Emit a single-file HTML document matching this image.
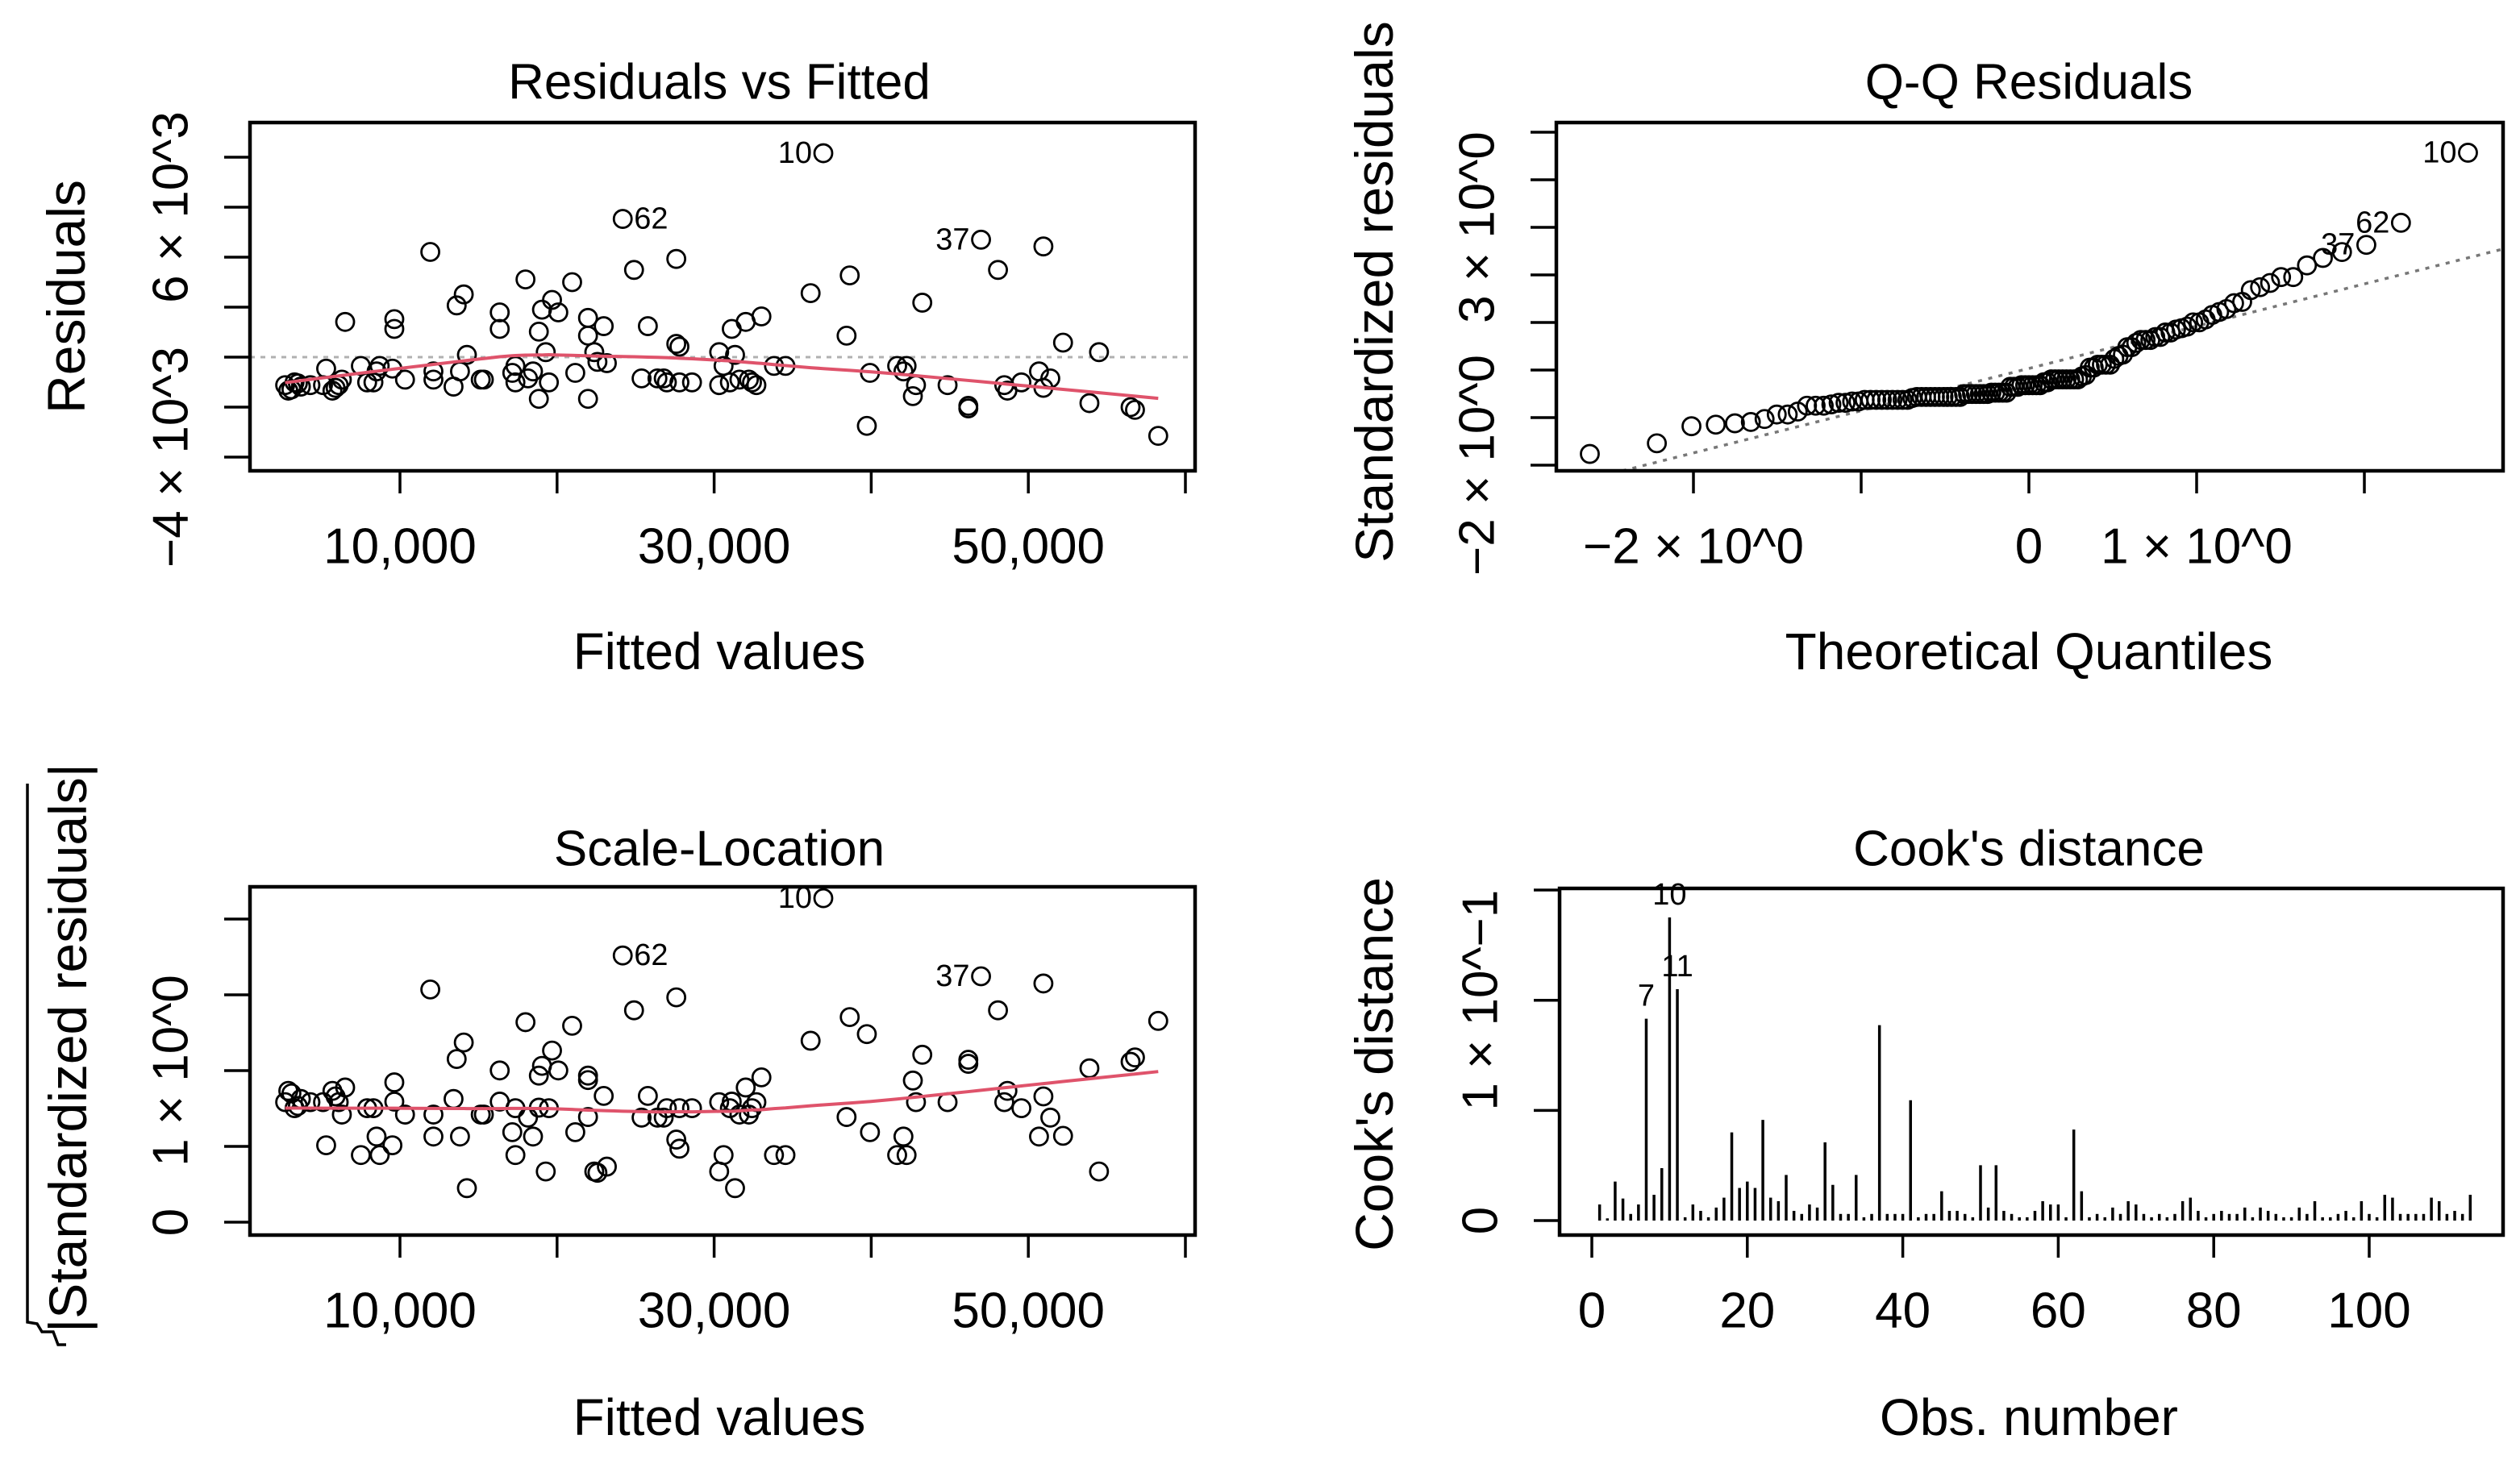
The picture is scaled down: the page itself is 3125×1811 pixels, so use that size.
<!DOCTYPE html>
<html><head><meta charset="utf-8"><style>
html,body{margin:0;padding:0;background:#fff;}
svg{display:block;}
text{font-family:"Liberation Sans",Arial,sans-serif;fill:#000;}
</style></head><body>
<svg id="chart" xmlns="http://www.w3.org/2000/svg" width="3125" height="1811" viewBox="0 0 3125 1811">
<defs>
<clipPath id="c1"><rect x="310" y="152" width="1172" height="432"/></clipPath>
<clipPath id="c2"><rect x="1930" y="152" width="1174" height="432"/></clipPath>
<clipPath id="c3"><rect x="310" y="1100" width="1172" height="432"/></clipPath>
</defs>
<g id="g"></g>
</svg>
<script>
// ---------- data (fitted in thousands, residuals in thousands) ----------
const obsLabels = ["10", "37", "62"];
const fittedVals = [36.95,46.99,24.18, 2.69,3.09,3.29,4.30,5.30,5.10,5.70,6.10,6.51,7.51,7.91,8.71,9.52,9.64,9.64,10.32,11.93,12.13,12.13,13.41,13.61,14.06,14.26,13.82,15.14,15.34,16.35,16.35,17.35,17.35,17.99,18.47,18.84,18.84,19.04,19.28,19.68,19.48,20.08,20.96,21.16,21.97,21.97,21.97,22.37,22.97,23.17,22.57,24.90,25.38,25.78,26.39,26.79,27.59,27.59,27.79,27.79,28.59,30.32,30.32,30.60,31.12,31.33,31.61,32.01,32.21,32.69,33.01,33.81,34.54,36.14,38.43,38.63,39.72,39.92,41.65,42.25,42.65,42.85,43.25,44.86,46.18,46.18,48.07,48.47,49.56,50.68,50.96,50.96,51.40,52.21,53.89,54.50,56.51,56.79,58.27,2.89,3.69,5.90,8.31,8.51,17.15,18.15,26.99,31.00,32.41,42.05,48.67,3.50,6.30];
const residVals = [8.16,4.70,5.53, -1.12,-1.29,-1.01,-1.12,-0.46,-1.12,-1.34,-1.12,1.41,-0.35,-1.01,-0.35,-0.46,1.52,1.13,-0.90,4.21,-0.90,-0.57,-1.18,2.07,2.51,0.09,-0.57,-0.90,-0.90,1.79,1.13,-0.35,-1.01,3.11,-0.57,1.02,-1.67,1.90,0.20,2.29,-1.01,1.79,3.00,-0.63,1.57,0.86,-1.67,0.20,1.24,-0.24,-0.19,3.49,-0.85,1.24,-0.85,-0.85,3.93,0.53,0.42,-1.01,-1.01,0.20,-1.12,-0.35,1.13,0.09,-0.90,1.41,-0.90,-1.12,1.63,-0.35,-0.35,2.56,0.86,3.27,-2.75,-0.63,-0.35,-0.35,-1.56,-1.12,2.18,-1.12,-1.95,-2.05,3.49,-1.12,-1.01,-0.57,-1.23,4.43,-0.85,0.58,-1.84,0.20,-2.00,-2.11,-3.15,-1.34,-1.18,-1.23,-1.01,-0.57,-0.63,-0.85,-1.01,-1.01,-1.01,-0.57,-1.34,-1.05,-0.90];
const sigmaHat = 1.786;
const cooksVals = [0.0073,0.001,0.0177,0.010,0.003,0.0073,0.0916,0.0117,0.0238,0.1376,0.105,0.0015,0.0073,0.0044,0.0015,0.0059,0.0104,0.040,0.0148,0.0177,0.0148,0.0457,0.0104,0.0088,0.0207,0.0044,0.003,0.0073,0.0059,0.0355,0.0162,0.003,0.003,0.0207,0.0015,0.003,0.0887,0.003,0.003,0.003,0.0546,0.0015,0.003,0.003,0.0133,0.0044,0.0044,0.003,0.0015,0.0251,0.0059,0.0251,0.0044,0.003,0.0015,0.0015,0.0044,0.0088,0.0073,0.0073,0.0015,0.0413,0.0133,0.0015,0.003,0.0015,0.0059,0.003,0.0088,0.0073,0.003,0.0015,0.003,0.0015,0.003,0.0088,0.0104,0.0044,0.0015,0.003,0.0044,0.003,0.003,0.0059,0.0015,0.0059,0.0044,0.003,0.0015,0.0015,0.0059,0.003,0.0088,0.0015,0.0015,0.003,0.0044,0.0015,0.0088,0.003,0.0015,0.0117,0.0104,0.003,0.003,0.003,0.003,0.0104,0.0088,0.003,0.0044,0.003,0.0117];
const cooksLabelObs = [7, 10, 11];
const fittedTicks = [10,20,30,40,50,60];
const fittedTickLabels = {10:"10,000",30:"30,000",50:"50,000"};
const residTicks = [8,6,4,2,0,-2,-4];
const residTickLabels = {6:"6 × 10^3","-4":"−4 × 10^3"};
const qqXTicks = [-2,-1,0,1,2];
const qqXTickLabels = {"-2":"−2 × 10^0","0":"0","1":"1 × 10^0"};
const qqYTicks = [5,4,3,2,1,0,-1,-2];
const qqYTickLabels = {3:"3 × 10^0","-2":"−2 × 10^0"};
const slTicks = [0,0.5,1,1.5,2];
const slTickLabels = {0:"0",1:"1 × 10^0"};
const obsTicks = [0,20,40,60,80,100];
const cookTicks = [0,0.05,0.1,0.15];
const cookTickLabels = {0:"0","0.1":"1 × 10^−1"};

// ---------- axis functions ----------
const xFit = f => 496 + (f-10)*19.48;
const yRes = r => 443 - r*31;
const xQ = q => 2516 + q*208;
const yQ = s => 459 - s*59;
const ySL = v => 1516 - v*188;
const xObs = i => 1974 + i*9.64;
const yCook = v => 1514 - v*2733;

const NS="http://www.w3.org/2000/svg";
const G=document.getElementById('g');
function mk(tag, attrs, parent){const e=document.createElementNS(NS,tag);for(const k in attrs)e.setAttribute(k,attrs[k]);(parent||G).appendChild(e);return e;}
function txt(s,x,y,size,anchor,rot){const e=mk('text',{x:x,y:y,'font-size':size,'text-anchor':anchor||'middle','dominant-baseline':'central'});if(rot)e.setAttribute('transform','rotate(-90 '+x+' '+y+')');e.textContent=s;return e;}

function lowess(x,y,f,iter){
  const n=x.length, idx=[...Array(n).keys()].sort((a,b)=>x[a]-x[b]);
  const xs=idx.map(i=>x[i]), ys=idx.map(i=>y[i]);
  const ns=Math.max(2,Math.min(n,Math.round(f*n)));
  let rw=new Array(n).fill(1), fit=new Array(n).fill(0);
  for(let it=0;it<=iter;it++){
    for(let i=0;i<n;i++){
      const d=xs.map(v=>Math.abs(v-xs[i])); const h=[...d].sort((a,b)=>a-b)[ns-1]||1e-9;
      let sw=0,sx=0,sy=0,sxx=0,sxy=0;
      for(let j=0;j<n;j++){let u=d[j]/h; if(u>=1)continue; let w=Math.pow(1-u*u*u,3)*rw[j]; sw+=w;sx+=w*xs[j];sy+=w*ys[j];sxx+=w*xs[j]*xs[j];sxy+=w*xs[j]*ys[j];}
      const mx=sx/sw,my=sy/sw,vx=sxx/sw-mx*mx;
      fit[i]= vx>1e-9 ? my+(sxy/sw-mx*my)/vx*(xs[i]-mx) : my;
    }
    const res=ys.map((v,i)=>v-fit[i]); const m=[...res.map(Math.abs)].sort((a,b)=>a-b)[Math.floor(n/2)]*6;
    rw=res.map(r=>{const u=r/m;return Math.abs(u)<1?Math.pow(1-u*u,2):0;});
  }
  return xs.map((v,i)=>[v,fit[i]]);
}
function qnorm(p){
  const a=[-39.6968302866538,220.946098424521,-275.928510446969,138.357751867269,-30.6647980661472,2.50662827745924];
  const b=[-54.4760987982241,161.585836858041,-155.698979859887,66.8013118877197,-13.2806815528857];
  const c=[-0.00778489400243029,-0.322396458041136,-2.40075827716184,-2.54973253934373,4.37466414146497,2.93816398269878];
  const d=[0.00778469570904146,0.32246712907004,2.445134137143,3.75440866190742];
  let q,r;
  if(p<0.02425){q=Math.sqrt(-2*Math.log(p));return (((((c[0]*q+c[1])*q+c[2])*q+c[3])*q+c[4])*q+c[5])/((((d[0]*q+d[1])*q+d[2])*q+d[3])*q+1);}
  if(p>1-0.02425){q=Math.sqrt(-2*Math.log(1-p));return -(((((c[0]*q+c[1])*q+c[2])*q+c[3])*q+c[4])*q+c[5])/((((d[0]*q+d[1])*q+d[2])*q+d[3])*q+1);}
  q=p-0.5;r=q*q;return (((((a[0]*r+a[1])*r+a[2])*r+a[3])*r+a[4])*r+a[5])*q/(((((b[0]*r+b[1])*r+b[2])*r+b[3])*r+b[4])*r+1);
}
function quant(arr,p){const s=[...arr].sort((a,b)=>a-b);const h=(s.length-1)*p,lo=Math.floor(h);return s[lo]+(h-lo)*(s[Math.min(lo+1,s.length-1)]-s[lo]);}

function frame(x0,y0,x1,y1,name){const r=mk('rect',{x:x0,y:y0,width:x1-x0,height:y1-y0,fill:'none',stroke:'#000','stroke-width':4.5});}
function xAxis(ticks,labels,fx,yb,name){
  const g=mk('g',{});  
  ticks.forEach(t=>{mk('line',{x1:fx(t),x2:fx(t),y1:yb,y2:yb+28,stroke:'#000','stroke-width':3.5},g); if(labels[t]!==undefined){const e=txt(labels[t],fx(t),yb+94,62); g.appendChild(e);} });
}
function yAxis(ticks,labels,fy,xl,name){
  const g=mk('g',{});  
  ticks.forEach(t=>{mk('line',{x1:xl-32,x2:xl,y1:fy(t),y2:fy(t),stroke:'#000','stroke-width':3.5},g); if(labels[t]!==undefined){const e=txt(labels[t],xl-98,fy(t),62,'middle',true); g.appendChild(e);} });
}
function title(s,x,y,name){const e=txt(s,x,y,62);}
function ytitle(s,x,y,name){const e=txt(s,x,y,66,'middle',true);}
function xtitle(s,x,y,name){const e=txt(s,x,y,64);}
function pt(x,y,clip,name){const c=mk('circle',{cx:x,cy:y,r:11,fill:'none',stroke:'#000','stroke-width':2.8,'clip-path':clip});}

// ---------- Panel 1 ----------
title("Residuals vs Fitted",892,102,'residuals-vs-fitted-title');
{const l=mk('line',{x1:310,x2:1482,y1:yRes(0),y2:yRes(0),stroke:'#b0b0b0','stroke-width':3,'stroke-dasharray':'6 7'});}
fittedVals.forEach((f,i)=>pt(xFit(f),yRes(residVals[i]),'url(#c1)','residual-point'));
{const sm=lowess(fittedVals,residVals,2/3,3);const p=mk('polyline',{points:sm.map(d=>xFit(d[0])+','+yRes(d[1])).join(' '),fill:'none',stroke:'#DF536B','stroke-width':4});}
obsLabels.forEach((s,i)=>{const x=xFit(fittedVals[i]),y=yRes(residVals[i]);const right=fittedVals[i]<30;const e=txt(s,right?x+14:x-14,y,38,right?'start':'end');});
frame(310,152,1482,584,'residuals-plot-frame');
xAxis(fittedTicks,fittedTickLabels,xFit,584,'residuals-x-axis');
yAxis(residTicks,residTickLabels,yRes,310,'residuals-y-axis');
xtitle("Fitted values",892,808,'residuals-x-title');
ytitle("Residuals",82,368,'residuals-y-title');

// ---------- Panel 2 ----------
title("Q-Q Residuals",2516,102,'qq-title');
{
  const std=residVals.map(r=>r/sigmaHat); const n=std.length;
  const order=[...Array(n).keys()].sort((a,b)=>std[a]-std[b]);
  const theo=order.map((_,k)=>qnorm((k+1-0.5)/n));
  const q1=quant(std,0.25),q3=quant(std,0.75),z1=qnorm(0.25),z3=qnorm(0.75);
  const sl=(q3-q1)/(z3-z1), ic=q1-sl*z1;
  const l=mk('line',{x1:xQ(-4),y1:yQ(ic-4*sl),x2:xQ(4),y2:yQ(ic+4*sl),stroke:'#777','stroke-width':3.5,'stroke-dasharray':'5 8','clip-path':'url(#c2)'});
  
  order.forEach((i,k)=>{pt(xQ(theo[k]),yQ(std[i]),'url(#c2)','qq-point'); if(i<obsLabels.length){const e=txt(obsLabels[i],xQ(theo[k])-14,yQ(std[i]),38,'end');}});
}
frame(1930,152,3104,584,'qq-plot-frame');
xAxis(qqXTicks,qqXTickLabels,xQ,584,'qq-x-axis');
yAxis(qqYTicks,qqYTickLabels,yQ,1930,'qq-y-axis');
xtitle("Theoretical Quantiles",2516,808,'qq-x-title');
ytitle("Standardized residuals",1704,362,'qq-y-title');

// ---------- Panel 3 ----------
title("Scale-Location",892,1053,'scale-location-title');
{
  const sv=residVals.map(r=>Math.sqrt(Math.abs(r)/sigmaHat));
  fittedVals.forEach((f,i)=>pt(xFit(f),ySL(sv[i]),'url(#c3)','scale-location-point'));
  const sm=lowess(fittedVals,sv,2/3,3);const p=mk('polyline',{points:sm.map(d=>xFit(d[0])+','+ySL(d[1])).join(' '),fill:'none',stroke:'#DF536B','stroke-width':4});
  obsLabels.forEach((s,i)=>{const x=xFit(fittedVals[i]),y=ySL(sv[i]);const right=fittedVals[i]<30;const e=txt(s,right?x+14:x-14,y,38,right?'start':'end');});
}
frame(310,1100,1482,1532,'scale-location-frame');
xAxis(fittedTicks,fittedTickLabels,xFit,1532,'scale-location-x-axis');
yAxis(slTicks,slTickLabels,ySL,310,'scale-location-y-axis');
xtitle("Fitted values",892,1758,'scale-location-x-title');
ytitle("|Standardized residuals|",84,1300,'scale-location-y-title');
{const p=mk('path',{d:'M34 972 L34 1640 L46 1642 L52 1652 L66 1652 L72 1668 L82 1668',fill:'none',stroke:'#000','stroke-width':3.5});}

// ---------- Panel 4 ----------
title("Cook's distance",2516,1053,'cooks-title');
cooksVals.forEach((v,k)=>{const i=k+1;const b=mk('line',{x1:xObs(i),x2:xObs(i),y1:yCook(0),y2:yCook(v),stroke:'#000','stroke-width':3.5});});
cooksLabelObs.forEach(i=>{const e=txt(String(i),xObs(i),yCook(cooksVals[i-1])-28,38);});
frame(1934,1102,3104,1532,'cooks-frame');
xAxis(obsTicks,{0:"0",20:"20",40:"40",60:"60",80:"80",100:"100"},xObs,1532,'cooks-x-axis');
yAxis(cookTicks,cookTickLabels,yCook,1934,'cooks-y-axis');
xtitle("Obs. number",2516,1758,'cooks-x-title');
ytitle("Cook's distance",1704,1320,'cooks-y-title');
</script>
</body></html>
